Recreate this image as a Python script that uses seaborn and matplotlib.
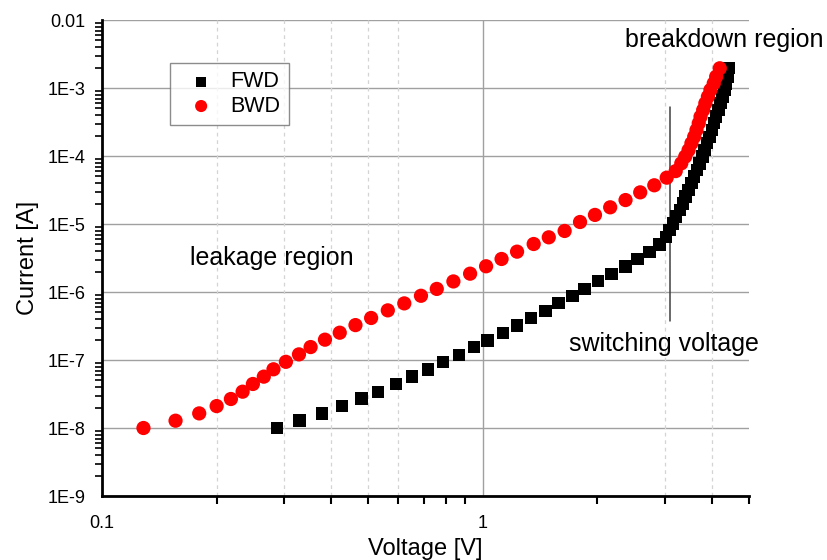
import matplotlib
matplotlib.use("Agg")
import matplotlib.pyplot as plt
import matplotlib.ticker as mticker
import numpy as np
import pandas as pd
import seaborn as sns

# Forward sweep (black squares)
fwd_voltage = [0.288, 0.330, 0.378, 0.427, 0.480, 0.531, 0.591, 0.652, 0.718, 0.787,
               0.867, 0.949, 1.03, 1.13, 1.23, 1.34, 1.46, 1.58, 1.72, 1.85,
               2.01, 2.18, 2.37, 2.55, 2.74, 2.91, 3.03, 3.09, 3.16, 3.22,
               3.29, 3.35, 3.41, 3.47, 3.53, 3.59, 3.65, 3.71, 3.77, 3.82,
               3.88, 3.94, 4.00, 4.05, 4.10, 4.16, 4.21, 4.26, 4.31, 4.35,
               4.39, 4.42]
fwd_current = [1.0e-8, 1.28e-8, 1.64e-8, 2.1e-8, 2.7e-8, 3.4e-8, 4.4e-8, 5.7e-8, 7.3e-8, 9.3e-8,
               1.19e-7, 1.56e-7, 1.94e-7, 2.5e-7, 3.2e-7, 4.15e-7, 5.3e-7, 6.9e-7, 8.8e-7, 1.11e-6,
               1.45e-6, 1.85e-6, 2.37e-6, 3.05e-6, 3.9e-6, 5.0e-6, 6.5e-6, 8.2e-6, 1.02e-5, 1.28e-5,
               1.61e-5, 2.01e-5, 2.52e-5, 3.16e-5, 3.97e-5, 4.96e-5, 6.22e-5, 7.81e-5, 9.77e-5, 1.22e-4,
               1.54e-4, 1.92e-4, 2.41e-4, 3.03e-4, 3.79e-4, 4.75e-4, 5.96e-4, 7.45e-4, 9.35e-4, 1.17e-3,
               1.47e-3, 1.95e-3]

# Backward sweep (red circles)
bwd_voltage = [0.1285, 0.156, 0.18, 0.2, 0.218, 0.234, 0.249, 0.266, 0.282, 0.304,
               0.329, 0.353, 0.385, 0.421, 0.463, 0.509, 0.563, 0.622, 0.688, 0.757,
               0.837, 0.926, 1.02, 1.12, 1.23, 1.36, 1.49, 1.64, 1.80, 1.97,
               2.16, 2.37, 2.59, 2.82, 3.04, 3.21, 3.32, 3.40, 3.47, 3.53,
               3.59, 3.64, 3.69, 3.73, 3.79, 3.84, 3.90, 3.96, 4.04, 4.10,
               4.19]
bwd_current = [1.0e-8, 1.28e-8, 1.64e-8, 2.1e-8, 2.67e-8, 3.42e-8, 4.44e-8, 5.69e-8, 7.3e-8, 9.4e-8,
               1.21e-7, 1.55e-7, 1.99e-7, 2.52e-7, 3.26e-7, 4.15e-7, 5.37e-7, 6.8e-7, 8.8e-7, 1.11e-6,
               1.43e-6, 1.86e-6, 2.39e-6, 3.06e-6, 3.92e-6, 5.08e-6, 6.37e-6, 7.9e-6, 1.07e-5, 1.36e-5,
               1.76e-5, 2.25e-5, 2.92e-5, 3.71e-5, 4.8e-5, 6.0e-5, 7.8e-5, 9.8e-5, 1.22e-4, 1.54e-4,
               1.92e-4, 2.41e-4, 3.03e-4, 3.79e-4, 4.75e-4, 5.96e-4, 7.45e-4, 9.35e-4, 1.17e-3, 1.47e-3,
               1.95e-3]

x_major = [0.1, 1]
x_major_labels = ["0.1", "1"]
y_major = [1e-9, 1e-8, 1e-7, 1e-6, 1e-5, 1e-4, 1e-3, 1e-2]
y_major_labels = ["1E-9", "1E-8", "1E-7", "1E-6", "1E-5", "1E-4", "1E-3", "0.01"]
x_minor_grid = [0.2, 0.3, 0.4, 0.5, 0.6, 3, 4]

switch_v = 3.1
switch_i = [3.75e-7, 5.25e-4]

sns.set_theme(style="white")
plt.rcParams["font.family"] = ["Liberation Sans", "DejaVu Sans"]
plt.rcParams.update({
    "text.color": "black",
    "axes.labelcolor": "black",
    "xtick.color": "black",
    "ytick.color": "black",
    "xtick.labelcolor": "black",
    "ytick.labelcolor": "black",
})

df = pd.concat([
    pd.DataFrame({"Voltage": fwd_voltage, "Current": fwd_current, "Sweep": "FWD"}),
    pd.DataFrame({"Voltage": bwd_voltage, "Current": bwd_current, "Sweep": "BWD"}),
], ignore_index=True)

fig = plt.figure(figsize=(8.27, 5.60), dpi=100)
ax = fig.add_axes([102 / 827, 64 / 560, 647 / 827, 476 / 560])
ax.set_xscale("log")
ax.set_yscale("log")
ax.set_xlim(0.1, 5)
ax.set_ylim(1e-9, 1e-2)

# grid
for yv in y_major:
    ax.axhline(yv, color="#a0a0a0", lw=1.0, zorder=0)
ax.axvline(1, color="#a0a0a0", lw=1.0, zorder=0)
for xv in x_minor_grid:
    ax.axvline(xv, color="#d4d4d4", lw=0.9, ls=(0, (3, 3)), zorder=0)

sns.scatterplot(data=df[df.Sweep == "FWD"], x="Voltage", y="Current", ax=ax,
                marker="s", s=80, color="black", edgecolor="none", label="FWD", zorder=3)
sns.scatterplot(data=df[df.Sweep == "BWD"], x="Voltage", y="Current", ax=ax,
                marker="o", s=105, color="#ff0000", edgecolor="none", label="BWD", zorder=4)

ax.plot([switch_v, switch_v], switch_i, color="#404040", lw=1.1, zorder=2)

ax.xaxis.set_major_locator(mticker.FixedLocator(x_major))
ax.xaxis.set_major_formatter(mticker.FixedFormatter(x_major_labels))
ax.xaxis.set_minor_locator(mticker.FixedLocator([0.2, 0.3, 0.4, 0.5, 0.6, 0.7, 0.8, 0.9, 2, 3, 4, 5]))
ax.xaxis.set_minor_formatter(mticker.NullFormatter())
ax.yaxis.set_major_locator(mticker.FixedLocator(y_major))
ax.yaxis.set_major_formatter(mticker.FixedFormatter(y_major_labels))
ax.yaxis.set_minor_locator(mticker.LogLocator(base=10, subs=np.arange(2, 10), numticks=20))
ax.yaxis.set_minor_formatter(mticker.NullFormatter())

ax.tick_params(axis="both", which="major", direction="out", length=8, width=1.8,
               labelsize=13, colors="black", pad=4)
ax.tick_params(axis="x", which="minor", direction="out", length=6, width=1.5, bottom=True)
ax.tick_params(axis="y", which="minor", direction="out", length=5, width=1.2, left=True)
ax.tick_params(axis="x", which="major", pad=6)

for side in ["top", "right"]:
    ax.spines[side].set_visible(False)
for side in ["left", "bottom"]:
    ax.spines[side].set_visible(True)
    ax.spines[side].set_color("black")
    ax.spines[side].set_linewidth(2.0)

ax.set_xlabel("Voltage [V]", fontsize=17, labelpad=4, color="black")
ax.set_ylabel("Current [A]", fontsize=17, labelpad=6, color="black")

leg = ax.legend(loc="upper left", bbox_to_anchor=(0.105, 0.91), borderaxespad=0,
                fontsize=15.5, frameon=True, fancybox=False, edgecolor="#707070",
                handletextpad=0.3, borderpad=0.4, labelspacing=0.15, handlelength=2.1,
                markerscale=0.85)
leg.get_frame().set_linewidth(1.0)
for t in leg.get_texts():
    t.set_color("black")

ax.text(4.31, 5.1e-3, "breakdown region", fontsize=18, ha="center", va="center",
        clip_on=False, color="black")
ax.text(0.28, 3.16e-6, "leakage region", fontsize=18, ha="center", va="center", color="black")
ax.text(2.99, 1.72e-7, "switching voltage", fontsize=18, ha="center", va="center",
        clip_on=False, color="black")

fig.savefig("out.png", dpi=100)
